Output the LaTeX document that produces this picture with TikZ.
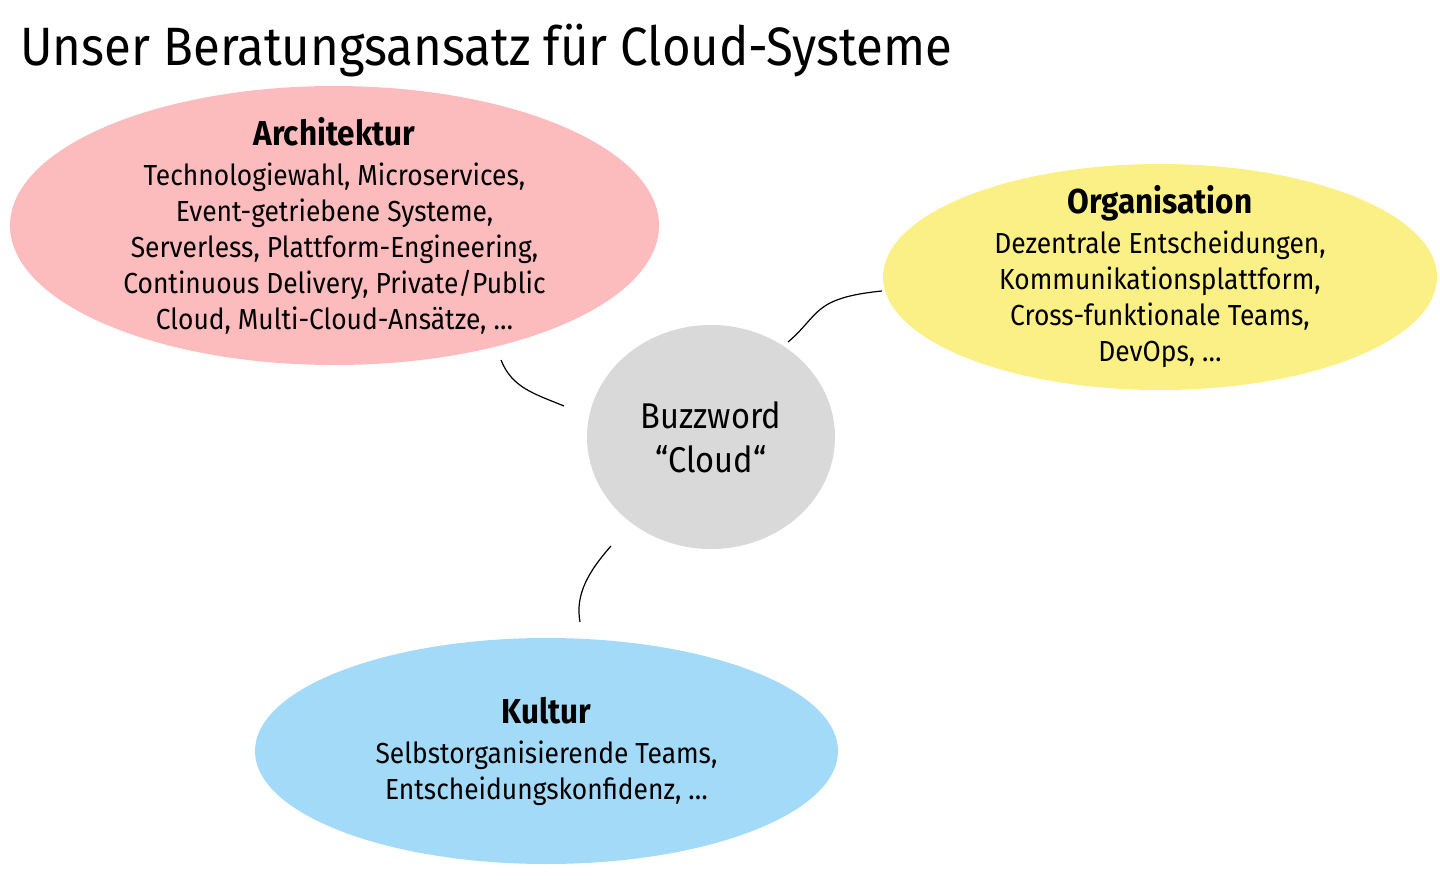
\documentclass[tikz,border=0pt]{standalone}
\usepackage{fontspec}
\setmainfont[FakeStretch=0.91]{Fira Sans}
\usetikzlibrary{shapes.geometric}
\definecolor{pinkc}{HTML}{FCBCBE}
\definecolor{yellowc}{HTML}{FBF085}
\definecolor{grayc}{HTML}{D9D9D9}
\definecolor{bluec}{HTML}{A2DAF7}
\tikzset{
  blob/.style={ellipse, inner sep=0pt, outer sep=0pt},
  txt/.style={inner sep=0pt, align=center, font=\fontsize{14.5}{18}\selectfont},
  conn/.style={draw=black, line width=0.6pt}
}
\newcommand{\hdr}[1]{{\fontsize{17.3}{20}\selectfont\bfseries #1}}
\begin{document}
\begin{tikzpicture}[x=0.5pt,y=-0.5pt]
\useasboundingbox (0,0) rectangle (1440,893);
\node[anchor=base west, inner sep=0pt, font=\fontsize{27}{30}\selectfont] (title) at (20,66) {Unser Beratungsansatz für Cloud-Systeme};
\node[blob, fill=pinkc, minimum width=649*0.5pt, minimum height=279*0.5pt] (arch) at (334.5,225.5) {};
\node[txt] (archt) at (arch.center)
 {\hdr{Architektur}\\[2pt]Technologiewahl, Microservices,\\Event-getriebene Systeme,\\Serverless, Plattform-Engineering,\\Continuous Delivery, Private/Public\\Cloud, Multi-Cloud-Ansätze, …};
\node[blob, fill=yellowc, minimum width=554*0.5pt, minimum height=226*0.5pt] (org) at (1160,277) {};
\node[txt] (orgt) at (org.center)
 {\hdr{Organisation}\\[2pt]Dezentrale Entscheidungen,\\Kommunikationsplattform,\\Cross-funktionale Teams,\\DevOps, …};
\node[blob, fill=grayc, minimum width=248*0.5pt, minimum height=224*0.5pt] (buzz) at (711,437) {};
\node[txt, font=\fontsize{17.9}{22}\selectfont] (buzzt) at (buzz.center) {Buzzword\\“Cloud“};
\node[blob, fill=bluec, minimum width=583*0.5pt, minimum height=226*0.5pt] (kult) at (546.5,751) {};
\node[txt] (kultt) at (kult.center)
 {\hdr{Kultur}\\[2pt]Selbstorganisierende Teams,\\Entscheidungskonfidenz, …};
\coordinate (a1) at (501,360);
\coordinate (a2) at (564,406);
\coordinate (o1) at (788,342);
\coordinate (o2) at (882,291);
\coordinate (k1) at (611,546);
\coordinate (k2) at (580,622);
\draw[conn] (a1) .. controls (512,388) and (535,394) .. (a2);
\draw[conn] (o1) .. controls (820,315) and (812,298) .. (o2);
\draw[conn] (k1) .. controls (588,572) and (575,595) .. (k2);
\end{tikzpicture}
\end{document}
